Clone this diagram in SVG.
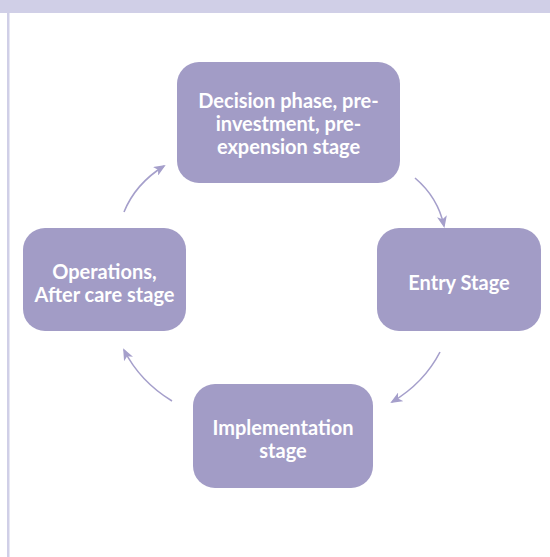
<svg xmlns="http://www.w3.org/2000/svg" width="550" height="557" viewBox="0 0 550 557">
<style>
.box{fill:#a29cc6;}
.lbl{font-family:Lato,"Open Sans",sans-serif;font-weight:bold;font-size:20px;fill:#ffffff;text-anchor:middle;}
.arr{fill:none;stroke:#a59fcb;stroke-width:1.6;marker-end:url(#ah);}
</style>
<defs>
<marker id="ah" viewBox="0 0 12 10" refX="10" refY="5" markerWidth="12" markerHeight="10" markerUnits="userSpaceOnUse" orient="auto">
<path d="M0,0 L12,5 L0,10 L3,5 Z" fill="#a59fcb"/>
</marker>
</defs>
<rect x="0" y="0" width="550" height="557" fill="#ffffff"/>
<rect x="0" y="0" width="550" height="13" fill="#d0cfe7"/>
<rect x="7" y="13" width="2.5" height="544" fill="#d0cfe7"/>
<g id="connectors">
<path class="arr" d="M124,212 Q135.5,183.7 164,166"/>
<path class="arr" d="M415,178 Q438,197.5 444,226"/>
<path class="arr" d="M440,352 Q424,383 392,402"/>
<path class="arr" d="M172,401 Q140,381.5 124,350"/>
</g>
<g id="decision">
<rect class="box" x="177" y="62" width="223" height="121" rx="22"/>
<text class="lbl" x="288.5" y="108">Decision phase, pre-</text>
<text class="lbl" x="288.5" y="131">investment, pre-</text>
<text class="lbl" x="288.5" y="154">expension stage</text>
</g>
<g id="entry">
<rect class="box" x="377" y="228" width="164" height="103" rx="22"/>
<text class="lbl" x="459" y="290">Entry Stage</text>
</g>
<g id="implementation">
<rect class="box" x="193" y="384" width="180" height="104" rx="22"/>
<text class="lbl" x="283" y="435">Implementation</text>
<text class="lbl" x="283" y="458">stage</text>
</g>
<g id="operations">
<rect class="box" x="23" y="228" width="163" height="103" rx="22"/>
<text class="lbl" x="104.5" y="279">Operations,</text>
<text class="lbl" x="104.5" y="302">After care stage</text>
</g>
</svg>
